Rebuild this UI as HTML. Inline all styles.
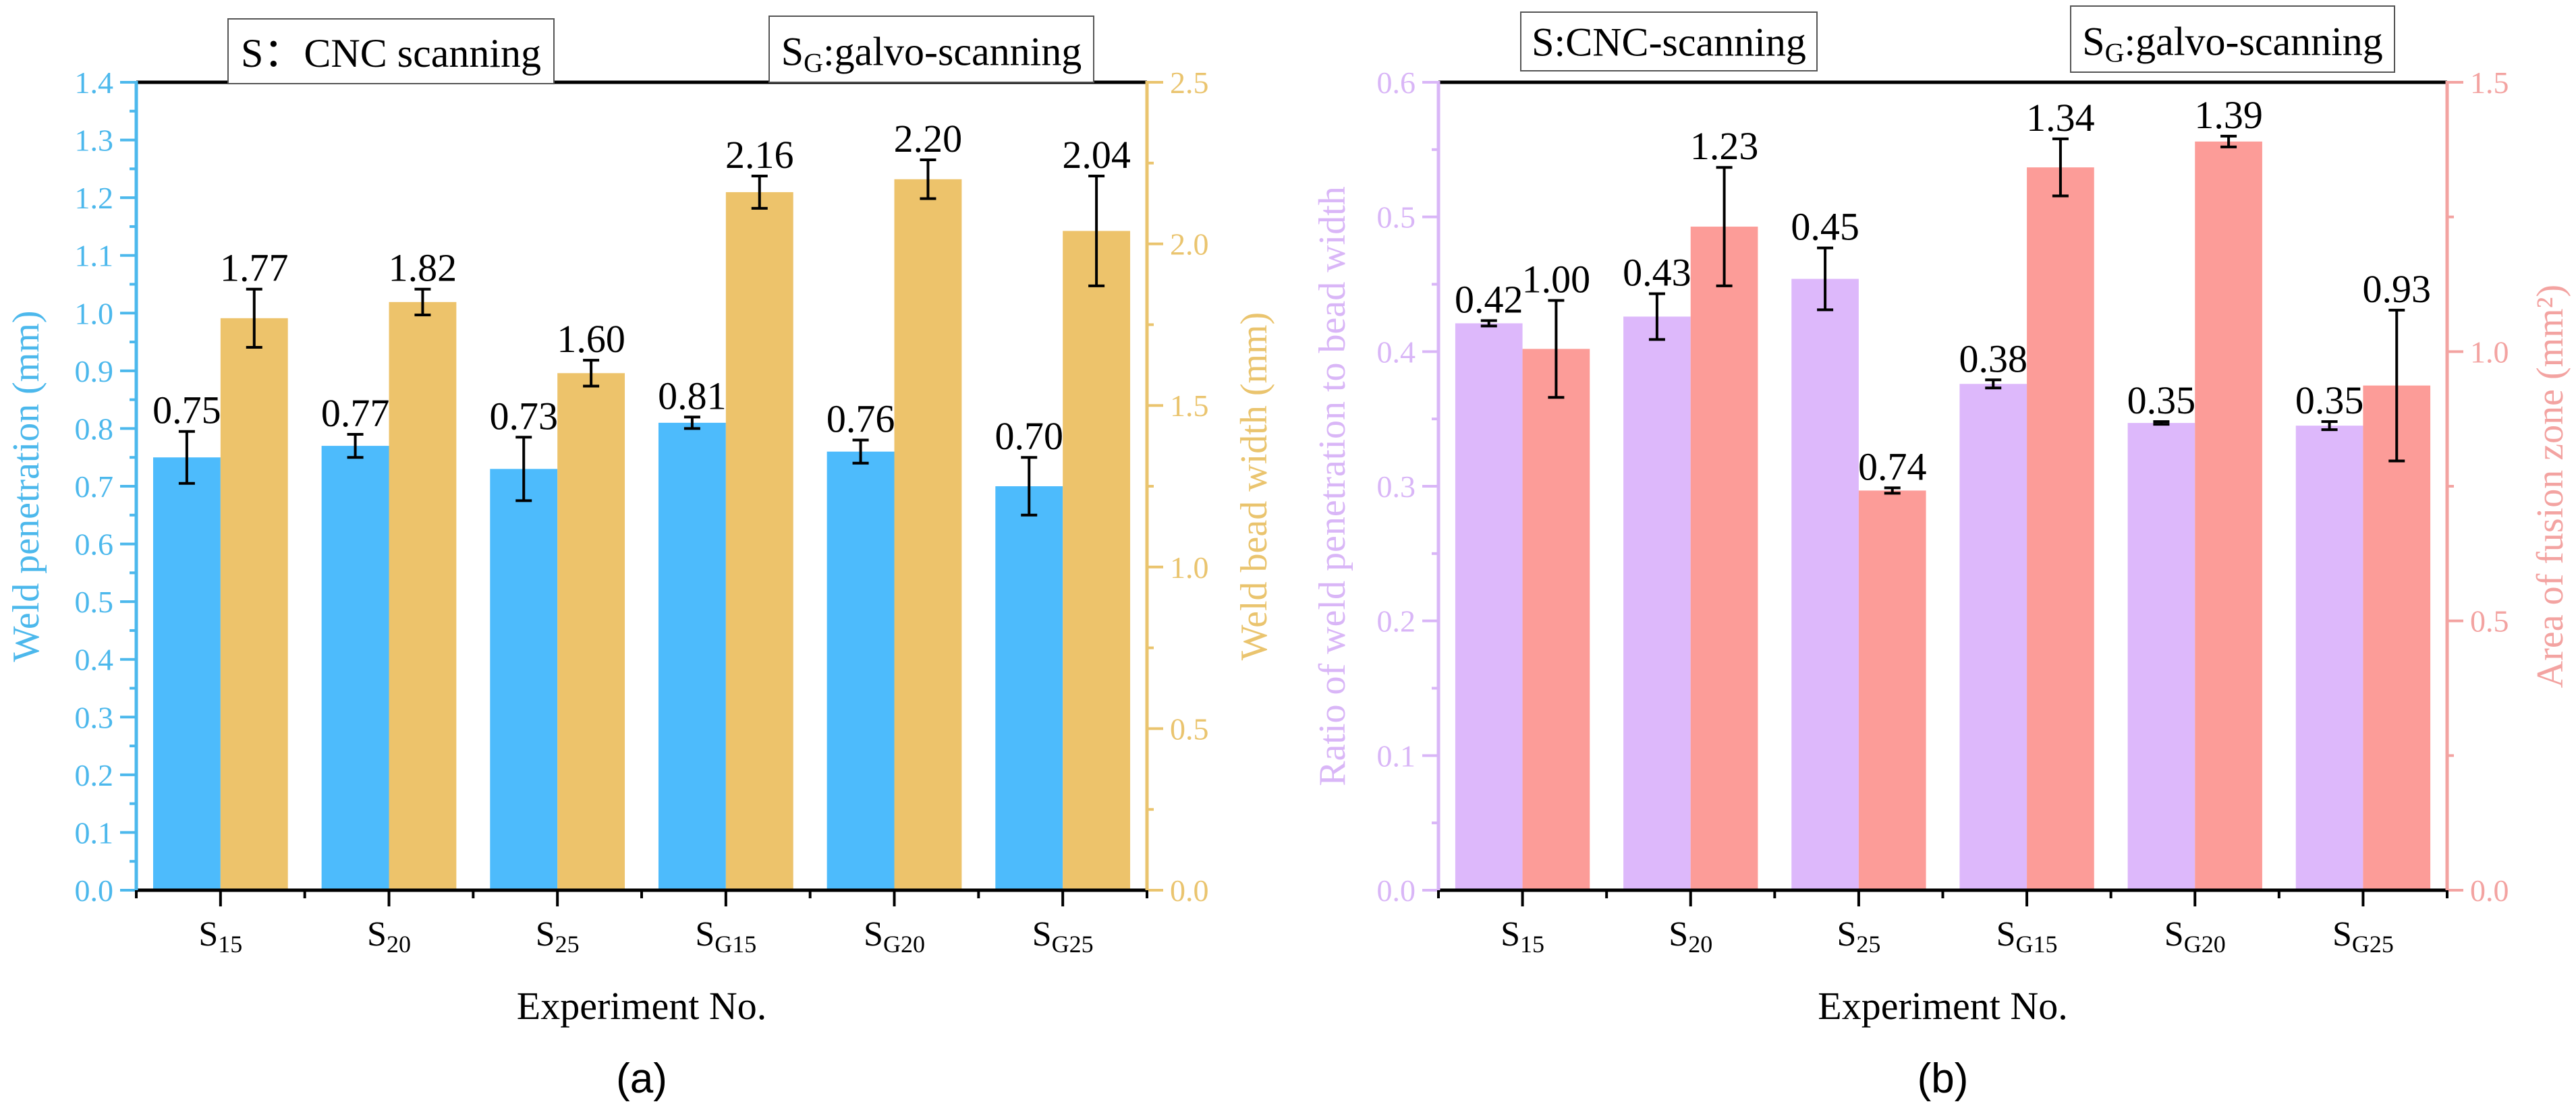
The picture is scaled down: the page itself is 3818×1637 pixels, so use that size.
<!DOCTYPE html>
<html><head><meta charset="utf-8"><style>
html,body{margin:0;padding:0;background:#fff;}
svg{display:block;}
text{font-family:"Liberation Serif",serif;}
</style></head><body>
<svg id="c" width="3818" height="1637" viewBox="0 0 3818 1637" xmlns="http://www.w3.org/2000/svg"></svg>
<script>
const categories = ["15","20","25","G15","G20","G25"];
const penetration = [0.75,0.77,0.73,0.81,0.76,0.70];
const penetrationErr = [0.045,0.02,0.055,0.01,0.02,0.05];
const penetrationLabels = ["0.75","0.77","0.73","0.81","0.76","0.70"];
const beadWidth = [1.77,1.82,1.60,2.16,2.20,2.04];
const beadWidthErr = [0.09,0.04,0.04,0.05,0.06,0.17];
const beadWidthLabels = ["1.77","1.82","1.60","2.16","2.20","2.04"];
const ratio = [0.421,0.426,0.454,0.376,0.347,0.345];
const ratioErr = [0.002,0.017,0.023,0.003,0.001,0.003];
const ratioLabels = ["0.42","0.43","0.45","0.38","0.35","0.35"];
const area = [1.005,1.232,0.742,1.342,1.39,0.937];
const areaErr = [0.09,0.11,0.005,0.053,0.01,0.14];
const areaLabels = ["1.00","1.23","0.74","1.34","1.39","0.93"];
const leftTicksA = ["0.0","0.1","0.2","0.3","0.4","0.5","0.6","0.7","0.8","0.9","1.0","1.1","1.2","1.3","1.4"];
const rightTicksA = ["0.0","0.5","1.0","1.5","2.0","2.5"];
const leftTicksB = ["0.0","0.1","0.2","0.3","0.4","0.5","0.6"];
const rightTicksB = ["0.0","0.5","1.0","1.5"];

const svg = document.getElementById('c');
const NS = "http://www.w3.org/2000/svg";
function mk(tag, attrs, parent){const e=document.createElementNS(NS,tag);for(const k in attrs)e.setAttribute(k,attrs[k]);(parent||svg).appendChild(e);return e;}

function panel(o){
  const g = mk('g',{});
  
  
  const X0=o.x0,X1=o.x1,T=122,B=1320;
  const band=(X1-X0)/categories.length, bw=band*0.4;
  const yL=v=>B-v/o.lMax*(B-T), yR=v=>B-v/o.rMax*(B-T);
  const cx=i=>X0+band*(i+0.5);
  categories.forEach((c,i)=>{
    const r1=mk('rect',{x:cx(i)-bw,y:yL(o.s1[i]),width:bw,height:B-yL(o.s1[i]),fill:o.c1},g);
    
    
    const r2=mk('rect',{x:cx(i),y:yR(o.s2[i]),width:bw,height:B-yR(o.s2[i]),fill:o.c2},g);
    
    
  });
  function err(x,yv,ev,yf,lab,nm){
    const t=yf(yv+ev),b=yf(yv-ev);
    const eg=mk('g',{stroke:'#000','stroke-width':4},g);
    
    
    mk('line',{x1:x,x2:x,y1:t,y2:b},eg);
    mk('line',{x1:x-12,x2:x+12,y1:t,y2:t},eg);
    mk('line',{x1:x-12,x2:x+12,y1:b,y2:b},eg);
    const tx=mk('text',{x:x,y:t-12,'font-size':58,'text-anchor':'middle',fill:'#000'},g);
    tx.textContent=lab;
    
    
  }
  categories.forEach((c,i)=>{
    err(cx(i)-bw/2,o.s1[i],o.e1[i],yL,o.l1[i],o.n1+'-'+c);
    err(cx(i)+bw/2,o.s2[i],o.e2[i],yR,o.l2[i],o.n2+'-'+c);
  });
  mk('line',{x1:X0,x2:X1,y1:T,y2:T,stroke:'#000','stroke-width':5},g);
  mk('line',{x1:X0,x2:X1,y1:B,y2:B,stroke:'#000','stroke-width':5},g);
  const la=mk('line',{x1:X0,x2:X0,y1:T-2,y2:B,stroke:o.ac1,'stroke-width':5},g);
  
  const ra=mk('line',{x1:X1,x2:X1,y1:T-2,y2:B,stroke:o.ac2,'stroke-width':5},g);
  
  const lStep=o.lMax/(o.lt.length-1);
  o.lt.forEach((t,i)=>{
    const y=yL(i*lStep);
    mk('line',{x1:X0-24,x2:X0,y1:y,y2:y,stroke:o.ac1,'stroke-width':4},g);
    if(i<o.lt.length-1){const ym=yL((i+0.5)*lStep);mk('line',{x1:X0-10,x2:X0,y1:ym,y2:ym,stroke:o.ac1,'stroke-width':4},g);}
    const tx=mk('text',{x:X0-34,y:y+16,'font-size':46,'text-anchor':'end',fill:o.ac1},g);
    tx.textContent=t;
    
    
  });
  const rStep=o.rMax/(o.rt.length-1);
  o.rt.forEach((t,i)=>{
    const y=yR(i*rStep);
    mk('line',{x1:X1,x2:X1+24,y1:y,y2:y,stroke:o.ac2,'stroke-width':4},g);
    if(i<o.rt.length-1){const ym=yR((i+0.5)*rStep);mk('line',{x1:X1,x2:X1+10,y1:ym,y2:ym,stroke:o.ac2,'stroke-width':4},g);}
    const tx=mk('text',{x:X1+34,y:y+16,'font-size':46,'text-anchor':'start',fill:o.ac2},g);
    tx.textContent=t;
    
    
  });
  mk('line',{x1:X0,x2:X0,y1:B,y2:B+12,stroke:'#000','stroke-width':4},g);
  categories.forEach((c,i)=>{
    mk('line',{x1:cx(i),x2:cx(i),y1:B,y2:B+24,stroke:'#000','stroke-width':4},g);
    mk('line',{x1:X0+band*(i+1),x2:X0+band*(i+1),y1:B,y2:B+12,stroke:'#000','stroke-width':4},g);
    const tx=mk('text',{x:cx(i),y:1402,'font-size':52,'text-anchor':'middle',fill:'#000'},g);
    tx.innerHTML='S<tspan font-size="36" dy="10">'+c+'</tspan>';
    
    
  });
  const xt=mk('text',{x:(X0+X1)/2,y:1511,'font-size':58,'text-anchor':'middle',fill:'#000'},g);
  xt.textContent='Experiment No.';
  
  const yt1=mk('text',{x:0,y:0,'font-size':56,'text-anchor':'middle',fill:o.ac1,transform:`translate(${o.ly+20},721) rotate(-90)`},g);
  yt1.textContent=o.t1;
  
  const yt2=mk('text',{x:0,y:0,'font-size':56,'text-anchor':'middle',fill:o.ac2,transform:`translate(${o.ry+20},721) rotate(-90)`},g);
  yt2.innerHTML=o.t2;
  
  o.boxes.forEach(b=>{
    const bg=mk('g',{},g);
    
    mk('rect',{x:b.x,y:b.y,width:b.w,height:b.h,fill:'#fff',stroke:'#555','stroke-width':2},bg);
    const tx=mk('text',{x:b.x+b.w/2,y:b.y+b.h*0.74,'font-size':60,'text-anchor':'middle',fill:'#000'},bg);
    tx.innerHTML=b.html;
  });
  const pl=mk('text',{x:(X0+X1)/2,y:1620,'font-size':62,'text-anchor':'middle',fill:'#000',style:'font-family:"Liberation Sans",sans-serif'},g);
  pl.textContent=o.plabel;
  
}

panel({name:'panel-a',x0:202,x1:1700,lMax:1.4,rMax:2.5,s1:penetration,e1:penetrationErr,l1:penetrationLabels,s2:beadWidth,e2:beadWidthErr,l2:beadWidthLabels,
  n1:'penetration',n2:'bead-width',c1:'#4DBBFC',c2:'#EDC36B',ac1:'#4CB8EC',ac2:'#EAC46E',lt:leftTicksA,rt:rightTicksA,
  ly:37,ry:1857,t1:'Weld penetration (mm)',t2:'Weld bead width (mm)',plabel:'(a)',
  boxes:[{name:'legend-box-cnc',x:338,y:28,w:483,h:96,html:'S：CNC scanning'},
         {name:'legend-box-galvo',x:1140,y:24,w:481,h:98,html:'S<tspan font-size="40" dy="10">G</tspan><tspan dy="-10">:galvo-scanning</tspan>'}]});
panel({name:'panel-b',x0:2132,x1:3627,lMax:0.6,rMax:1.5,s1:ratio,e1:ratioErr,l1:ratioLabels,s2:area,e2:areaErr,l2:areaLabels,
  n1:'ratio',n2:'fusion-area',c1:'#DDB8FB',c2:'#FC9C98',ac1:'#D9B6F7',ac2:'#F3A3A1',lt:leftTicksB,rt:rightTicksB,
  ly:1973,ry:3778,t1:'Ratio of weld penetration to bead width',t2:'Area of fusion zone (mm²)',plabel:'(b)',
  boxes:[{name:'legend-box-cnc',x:2254,y:18,w:439,h:87,html:'S:CNC-scanning'},
         {name:'legend-box-galvo',x:3069,y:9,w:480,h:98,html:'S<tspan font-size="40" dy="10">G</tspan><tspan dy="-10">:galvo-scanning</tspan>'}]});
</script>
</body></html>
